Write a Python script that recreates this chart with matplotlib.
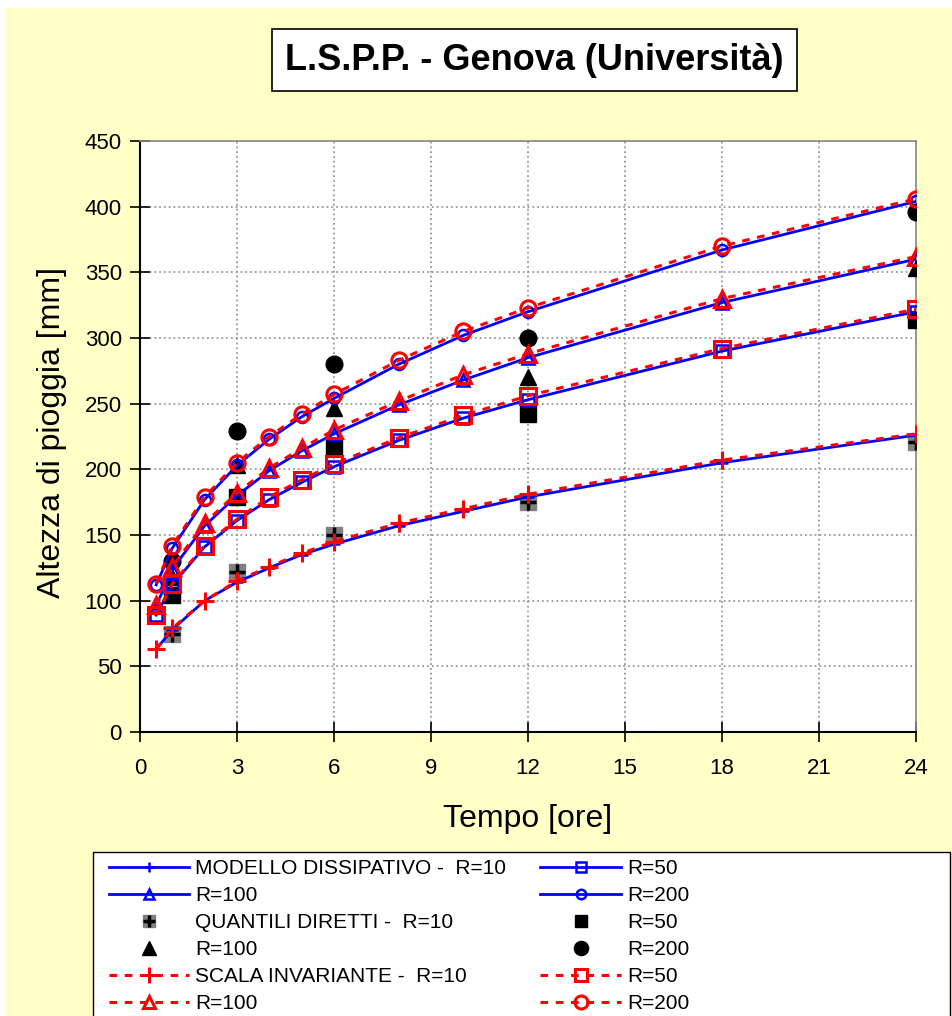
import matplotlib
matplotlib.use("Agg")
import matplotlib.pyplot as plt
from matplotlib.patches import Rectangle
from matplotlib.legend_handler import HandlerTuple

plt.rcParams['font.family'] = ['Liberation Sans', 'DejaVu Sans']

# Durations (hours)
durations = [0.5, 1, 2, 3, 4, 5, 6, 8, 10, 12, 18, 24]
# Modello dissipativo (blue solid)
mod_R10 = [63, 78, 100, 114, 125, 135, 143, 157, 168, 179, 205, 226]
mod_R50 = [89, 112, 141, 161, 177, 190, 202, 222, 239, 253, 290, 320]
mod_R100 = [96, 124, 157, 180, 199, 214, 227, 249, 268, 285, 327, 360]
mod_R200 = [112, 140, 177, 203, 223, 240, 254, 280, 302, 320, 367, 404]
# Scala invariante (red dotted)
sca_R10 = [63, 79, 100, 115, 126, 136, 145, 159, 170, 181, 207, 227]
sca_R50 = [89, 113, 142, 162, 179, 192, 204, 224, 241, 256, 292, 322]
sca_R100 = [97, 126, 159, 182, 201, 216, 230, 252, 272, 288, 330, 362]
sca_R200 = [113, 142, 179, 205, 225, 242, 257, 283, 305, 323, 370, 406]
# Quantili diretti (black markers)
q_durations = [1, 3, 6, 12, 24]
q_R10 = [75, 122, 150, 175, 221]
q_R50 = [104, 179, 217, 242, 314]
q_R100 = [118, 203, 247, 270, 353]
q_R200 = [130, 229, 280, 300, 396]

x_ticks = [0, 3, 6, 9, 12, 15, 18, 21, 24]
y_ticks = list(range(0, 451, 50))

W, H = 953, 1016
fig = plt.figure(figsize=(W / 100, H / 100), dpi=100)
fig.patch.set_facecolor('white')
fig.patches.append(Rectangle((5 / W, 0), 1, 1 - 8 / H, transform=fig.transFigure,
                             facecolor='#FFFFC8', edgecolor='none', zorder=-10))

ax = fig.add_axes([140 / W, 1 - 732 / H, (916 - 140) / W, (732 - 141) / H])
ax.set_facecolor('white')

# Quantili diretti
qh10a, = ax.plot(q_durations, q_R10, linestyle='none', marker='s', ms=11,
                 mfc='#808080', mec='#808080', zorder=3)
qh10b, = ax.plot(q_durations, q_R10, linestyle='none', marker='+', ms=11,
                 mec='black', mew=2.5, zorder=3.1)
qh50, = ax.plot(q_durations, q_R50, linestyle='none', marker='s', ms=11,
                mfc='black', mec='black', zorder=3)
qh100, = ax.plot(q_durations, q_R100, linestyle='none', marker='^', ms=12,
                 mfc='black', mec='black', zorder=3)
qh200, = ax.plot(q_durations, q_R200, linestyle='none', marker='o', ms=12,
                 mfc='black', mec='black', zorder=3)

blue = '#0000FF'
red = '#FF0000'
bkw = dict(color=blue, lw=2, mfc='none', mec=blue, mew=1.8, ms=8, zorder=4)
mh10, = ax.plot(durations, mod_R10, marker='+', **bkw)
mh50, = ax.plot(durations, mod_R50, marker='s', **bkw)
mh100, = ax.plot(durations, mod_R100, marker='^', **bkw)
mh200, = ax.plot(durations, mod_R200, marker='o', **bkw)

rkw = dict(color=red, lw=2.2, linestyle=(0, (2.5, 2.5)), mfc='none', mec=red, mew=2.2,
           ms=11, zorder=5)
sh10, = ax.plot(durations, sca_R10, marker='+', **{**rkw, 'ms': 13})
sh50, = ax.plot(durations, sca_R50, marker='s', **rkw)
sh100, = ax.plot(durations, sca_R100, marker='^', **rkw)
sh200, = ax.plot(durations, sca_R200, marker='o', **rkw)

ax.set_xlim(0, 24)
ax.set_ylim(0, 450)
ax.set_xticks(x_ticks)
ax.set_yticks(y_ticks)
ax.tick_params(axis='both', direction='inout', length=14, width=1.2,
               labelsize=16, colors='black')
ax.tick_params(axis='x', pad=12)
ax.tick_params(axis='y', pad=6)
ax.grid(True, color='#999999', linestyle=':', linewidth=1.3)
ax.set_axisbelow(True)
for s in ['left', 'bottom']:
    ax.spines[s].set_color('black')
    ax.spines[s].set_linewidth(1.5)
for s in ['top', 'right']:
    ax.spines[s].set_color('#888888')
    ax.spines[s].set_linewidth(1.2)

ax.set_xlabel('Tempo [ore]', fontsize=23, labelpad=18)
ax.set_ylabel('Altezza di pioggia [mm]', fontsize=23)
ax.yaxis.set_label_coords(-0.094, 0.507)

# Title box
fig.text((272 + 797) / 2 / W, 1 - 60 / H, 'L.S.P.P. - Genova (Università)',
         ha='center', va='center', fontsize=26, fontweight='bold',
         bbox=dict(boxstyle='square,pad=0.38', facecolor='white',
                   edgecolor='black', linewidth=1.2))

# Legend frame (extends to the right edge, cut at the bottom)
fig.patches.append(Rectangle((93 / W, -0.01), (950 - 93) / W, (1016 - 852) / H + 0.01,
                             transform=fig.transFigure, facecolor='white',
                             edgecolor='black', linewidth=1.0, zorder=1))

# Legend (row-wise order emulated by column-first ordering)
handles = [mh10, mh100, (qh10a, qh10b), qh100, sh10, sh100,
           mh50, mh200, qh50, qh200, sh50, sh200]
labels = ['MODELLO DISSIPATIVO -  R=10', 'R=100', 'QUANTILI DIRETTI -  R=10', 'R=100',
          'SCALA INVARIANTE -  R=10', 'R=100',
          'R=50', 'R=200', 'R=50', 'R=200', 'R=50', 'R=200']
leg = fig.legend(handles, labels, ncol=2, loc='upper left',
                 bbox_to_anchor=(109 / W, 1 - 859 / H), bbox_transform=fig.transFigure,
                 fontsize=15, frameon=False, handlelength=3.85, handletextpad=0.3,
                 columnspacing=1.63, labelspacing=0.387, borderaxespad=0,
                 borderpad=0.0, markerscale=0.85,
                 handler_map={tuple: HandlerTuple(ndivide=1, pad=0)})
leg.set_zorder(2)

fig.savefig('out.png', dpi=100, facecolor=fig.get_facecolor())
